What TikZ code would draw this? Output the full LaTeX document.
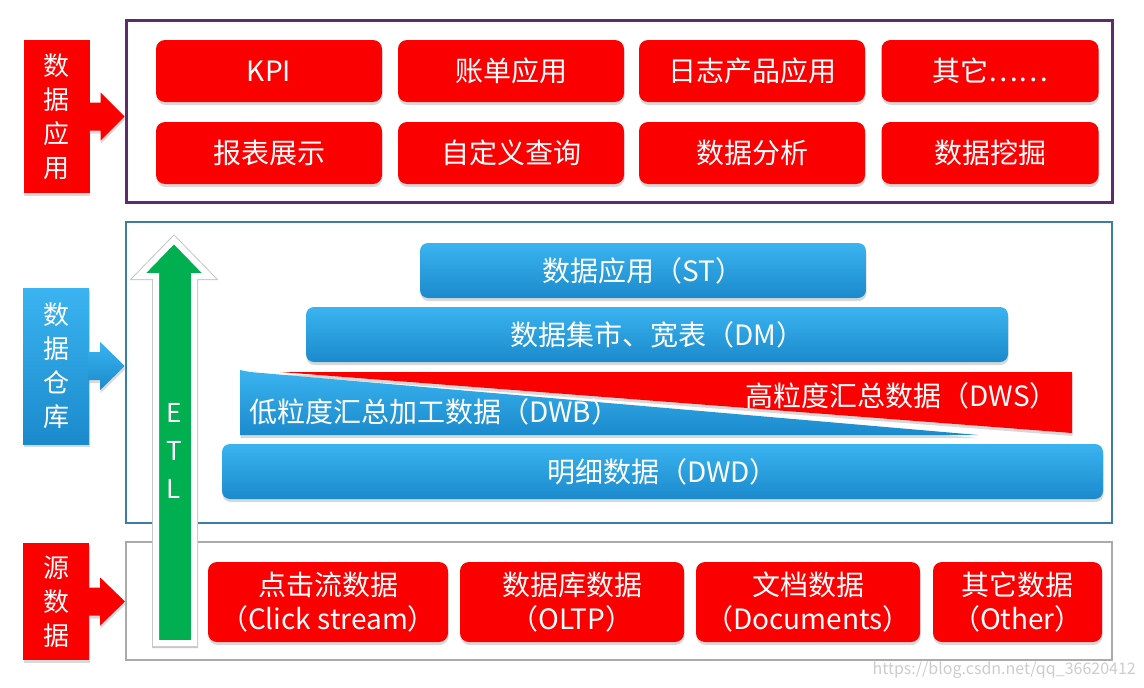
\documentclass[tikz,border=0pt]{standalone}
\usepackage{fontspec}
\newfontfamily\cjk{Noto Sans CJK SC}
\usetikzlibrary{shadows,calc}

\definecolor{appred}{RGB}{250,0,0}
\definecolor{whtop}{RGB}{58,180,240}
\definecolor{whbot}{RGB}{27,138,204}
\definecolor{etlgreen}{RGB}{0,176,80}
\definecolor{appline}{RGB}{92,44,110}
\definecolor{whline}{RGB}{60,125,165}
\definecolor{srcline}{RGB}{170,170,170}

\begin{document}
\begin{tikzpicture}[x=1pt, y=-1pt,
    boxshadow/.style={drop shadow={shadow xshift=0.5pt, shadow yshift=-3pt, opacity=0.3}},
    frame/.style={draw, fill=white, inner sep=0},
    redfill/.style={fill=appred},
    bluefill/.style={top color=whtop, bottom color=whbot},
    sidelabel/.style={text=white, align=center, inner sep=0, minimum width=66,
        font=\cjk\fontsize{26}{34}\selectfont, boxshadow},
    redbox/.style={redfill, rounded corners=9, text=white, align=center, inner sep=0,
        minimum height=62, font=\cjk\fontsize{28}{34}\selectfont, boxshadow},
    bluebox/.style={bluefill, rounded corners=8, text=white, inner sep=0,
        minimum height=55, font=\cjk\fontsize{28}{34}\selectfont, boxshadow},
    layertext/.style={text=white, inner sep=0, font=\cjk\fontsize{28}{34}\selectfont}]
    \useasboundingbox (0,0) rectangle (1144,688);

    %% Frames
    \node[frame, draw=appline, line width=3, minimum width=986, minimum height=182]
        (appframe) at (619,111) {};
    \node[frame, draw=whline, line width=2.5, minimum width=986, minimum height=301]
        (whframe) at (619,372.5) {};
    \node[frame, draw=srcline, line width=2, minimum width=986, minimum height=118]
        (srcframe) at (619,601) {};

    %% Side labels
    \node[sidelabel, redfill, minimum height=153] (appl) at (56.5,116.5) {数\\据\\应\\用};
    \node[sidelabel, bluefill, minimum height=156] (ware) at (56,366) {数\\据\\仓\\库};
    \node[sidelabel, redfill, minimum height=117] (src) at (56,601.5) {源\\数\\据};

    %% Block arrows from labels to frames
    \foreach \lab/\fr/\sty in {appl/appframe/redfill, ware/whframe/bluefill, src/srcframe/redfill}
        \path[\sty, boxshadow] ($(\lab.east)+(-1,-14)$) -- ++(12,0) -- ++(0,-10)
            -- (\lab.east -| \fr.west) -- ($(\lab.east)+(11,24)$) -- ++(0,-10)
            -- ($(\lab.east)+(-1,14)$) -- cycle;

    %% Data applications
    \node[redbox, minimum width=226] (kpi)  at (269,71)  {KPI};
    \node[redbox, minimum width=226] (bill) at (511,71)  {账单应用};
    \node[redbox, minimum width=226] (logp) at (752,71)  {日志产品应用};
    \node[redbox, minimum width=217] (etc)  at (990,71)  {其它……};
    \node[redbox, minimum width=226] (rpt)  at (269,153) {报表展示};
    \node[redbox, minimum width=226] (qry)  at (511,153) {自定义查询};
    \node[redbox, minimum width=226] (ana)  at (752,153) {数据分析};
    \node[redbox, minimum width=217] (mine) at (990,153) {数据挖掘};

    %% Warehouse layers
    \node[bluebox, minimum width=446] (st)  at (643,270.5) {数据应用（ST）};
    \node[bluebox, minimum width=702] (dm)  at (657,334.5) {数据集市、宽表（DM）};
    \path[bluefill, boxshadow] (240,370) -- (250,372) -- (978,435) -- (240,435) -- cycle;
    \path[redfill, boxshadow] (280,372) -- (1072,372) -- (1072,433) -- cycle;
    \node[layertext, anchor=west] (dwb) at (249,412) {低粒度汇总加工数据（DWB）};
    \node[layertext, anchor=east] (dws) at (1058,396) {高粒度汇总数据（DWS）};
    \node[bluebox, minimum width=881] (dwd) at (662.5,471.5) {明细数据（DWD）};

    %% Source data
    \node[redbox, minimum width=240, minimum height=80] (click) at (328,602)
        {点击流数据\\（Click stream）};
    \node[redbox, minimum width=224, minimum height=80] (oltp) at (572,602)
        {数据库数据\\（OLTP）};
    \node[redbox, minimum width=224, minimum height=80] (docs) at (808,602)
        {文档数据\\（Documents）};
    \node[redbox, minimum width=169, minimum height=80] (other) at (1017.5,602)
        {其它数据\\（Other）};

    %% ETL arrow
    \draw[black!22, line width=8, line join=miter]
        (156,644) -- (156,276) -- (139,276) -- (174,240) -- (209,276)
        -- (194,276) -- (194,644) -- cycle;
    \path[fill=etlgreen, draw=white, line width=6, line join=miter]
        (156,643) -- (156,276) -- (139,276) -- (174,240) -- (209,276)
        -- (194,276) -- (194,643) -- cycle;
    \node[text=white, align=center, inner sep=0, font=\cjk\fontsize{26}{38}\selectfont]
        (etl) at (174,451) {E\\T\\L};

    %% Watermark
    \node[anchor=east, inner sep=0, text=black!20, font=\cjk\fontsize{16}{18}\selectfont]
        (mark) at (1136,670) {https://blog.csdn.net/qq\_36620412};
\end{tikzpicture}
\end{document}
